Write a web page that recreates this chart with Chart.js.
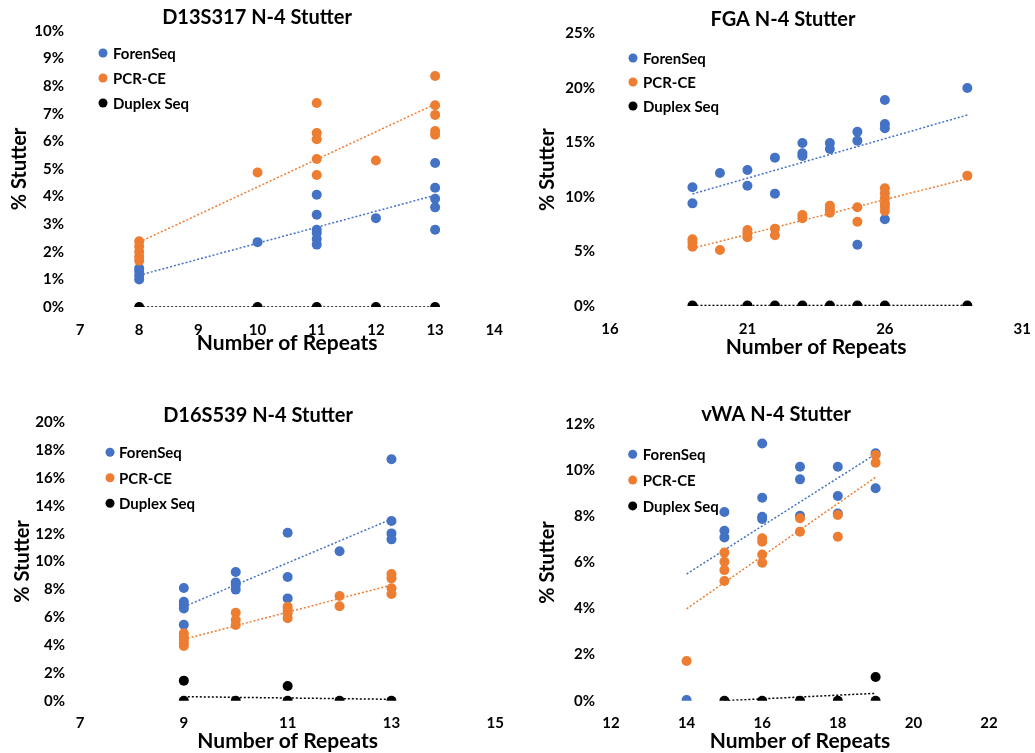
<!DOCTYPE html>
<html>
<head>
<meta charset="utf-8">
<script src="https://cdn.jsdelivr.net/npm/chart.js@4/dist/chart.umd.min.js"></script>
<style>
  html, body { margin: 0; padding: 0; background: #fff; overflow: hidden; }
  #wrap { position: relative; width: 1035px; height: 753px; overflow: hidden; }
  canvas { position: absolute; }
</style>
</head>
<body>
<div id="wrap">
  <canvas id="c1" width="517" height="362" style="left:0;top:0"></canvas>
  <canvas id="c2" width="530" height="362" style="left:515px;top:0"></canvas>
  <canvas id="c3" width="517" height="393" style="left:0;top:360px"></canvas>
  <canvas id="c4" width="530" height="393" style="left:515px;top:360px"></canvas>
</div>
<script>
// ---- D13S317 ----
const d13ForenX = [8, 8, 8, 8, 10, 11, 11, 11, 11, 11, 11, 12, 13, 13, 13, 13, 13];
const d13ForenY = [1.0, 1.15, 1.3, 1.4, 2.35, 4.07, 3.34, 2.8, 2.68, 2.46, 2.26, 3.22, 5.22, 4.32, 3.92, 3.61, 2.8];
const d13PcrX = [8, 8, 8, 8, 8, 10, 11, 11, 11, 11, 11, 12, 13, 13, 13, 13, 13];
const d13PcrY = [2.38, 2.2, 2.0, 1.83, 1.68, 4.87, 7.39, 6.3, 6.08, 5.36, 4.78, 5.31, 8.37, 7.31, 6.96, 6.38, 6.24];
const d13DupX = [8, 10, 11, 12, 13];
const d13DupY = [0, 0, 0, 0, 0];
const d13TrendX = [8, 13];
const d13TrendForen = [1.15, 4.05];
const d13TrendPcr = [2.35, 7.35];
const d13TrendDup = [0, 0];

// ---- FGA ----
const fgaForenX = [19, 19, 20, 21, 21, 22, 22, 23, 23, 23, 24, 24, 25, 25, 25, 26, 26, 26, 26, 29];
const fgaForenY = [10.88, 9.41, 12.19, 12.47, 11.03, 13.6, 10.3, 14.94, 14.0, 13.75, 14.94, 14.4, 15.98, 15.16, 5.62, 18.89, 16.69, 16.29, 7.95, 19.99];
const fgaPcrX = [19, 19, 19, 20, 21, 21, 21, 22, 22, 23, 23, 24, 24, 24, 25, 25, 26, 26, 26, 26, 26, 26, 29];
const fgaPcrY = [6.11, 5.81, 5.44, 5.13, 6.97, 6.66, 6.3, 7.09, 6.48, 8.34, 8.04, 9.2, 8.86, 8.56, 9.05, 7.73, 10.79, 10.33, 9.87, 9.41, 9.1, 8.71, 11.95];
const fgaDupX = [19, 21, 22, 23, 24, 25, 26, 29];
const fgaDupY = [0.05, 0.05, 0.05, 0.05, 0.05, 0.05, 0.05, 0.05];
const fgaTrendX = [19, 29];
const fgaTrendForen = [10.27, 17.51];
const fgaTrendPcr = [5.29, 11.67];
const fgaTrendDup = [0.05, 0.05];

// ---- D16S539 ----
const d16ForenX = [9, 9, 9, 9, 9, 10, 10, 10, 10, 11, 11, 11, 12, 13, 13, 13, 13];
const d16ForenY = [8.1, 7.11, 6.87, 6.63, 5.46, 9.25, 8.5, 8.31, 7.98, 12.07, 8.89, 7.35, 10.73, 17.34, 12.91, 12.02, 11.59];
const d16PcrX = [9, 9, 9, 9, 9, 10, 10, 10, 11, 11, 11, 11, 12, 12, 13, 13, 13, 13];
const d16PcrY = [4.84, 4.6, 4.36, 4.12, 3.93, 6.32, 5.8, 5.44, 6.75, 6.51, 6.28, 5.92, 7.52, 6.78, 9.1, 8.79, 8.07, 7.66];
const d16DupX = [9, 9, 10, 11, 11, 12, 13];
const d16DupY = [1.44, 0, 0, 1.05, 0, 0, 0];
const d16TrendX = [9, 13];
const d16TrendForen = [6.75, 13.05];
const d16TrendPcr = [4.41, 8.31];
const d16TrendDup = [0.29, 0.1];

// ---- vWA ----
const vwaForenX = [14, 15, 15, 15, 16, 16, 16, 16, 17, 17, 17, 18, 18, 18, 19, 19];
const vwaForenY = [0.03, 8.19, 7.38, 7.09, 11.17, 8.81, 7.99, 7.89, 10.16, 9.61, 8.03, 10.16, 8.89, 8.13, 10.74, 9.22];
const vwaPcrX = [14, 15, 15, 15, 15, 16, 16, 16, 16, 17, 17, 18, 18, 19, 19];
const vwaPcrY = [1.72, 6.43, 6.03, 5.67, 5.2, 7.05, 6.9, 6.35, 5.99, 7.92, 7.34, 8.06, 7.12, 10.67, 10.33];
const vwaDupX = [15, 16, 17, 18, 19, 19];
const vwaDupY = [0, 0, 0, 0, 1.03, 0];
const vwaTrendX = [14, 19];
const vwaTrendForen = [5.5, 10.71];
const vwaTrendPcr = [3.99, 9.7];
const vwaTrendDupX = [15, 19];
const vwaTrendDup = [0, 0.32];

const seriesNames = ['ForenSeq', 'PCR-CE', 'Duplex Seq'];
const colors = ['#4472C4', '#ED7D31', '#000000'];

const FONT = 'Lato, "Open Sans", sans-serif';

const pts = (xs, ys) => xs.map((x, i) => ({x: x, y: ys[i]}));

// legend drawn inside the plot area (top-left)
const insideLegend = {
  id: 'insideLegend',
  afterDraw(chart, args, opts) {
    const {ctx, chartArea} = chart;
    ctx.save();
    ctx.font = 'bold 15px ' + FONT;
    ctx.textBaseline = 'middle';
    ctx.textAlign = 'left';
    chart.data.datasets
      .filter(d => !d.trend)
      .sort((a, b) => a.legendIndex - b.legendIndex)
      .forEach((d, i) => {
        const x = chartArea.left + opts.x;
        const y = chartArea.top + opts.y + i * opts.gap;
        ctx.fillStyle = d.backgroundColor;
        ctx.beginPath();
        ctx.arc(x, y, 4.5, 0, Math.PI * 2);
        ctx.fill();
        ctx.fillStyle = '#000';
        ctx.fillText(d.label, x + opts.textGap, y + 1);
      });
    ctx.restore();
  }
};

function scatterSet(i, data){
  return {
    type: 'scatter', label: seriesNames[i], legendIndex: i, data: data,
    backgroundColor: colors[i], borderColor: colors[i],
    pointRadius: 5, pointHoverRadius: 5, borderWidth: 0
  };
}
function trendSet(i, data){
  return {
    type: 'line', label: seriesNames[i] + ' trend', trend: true, data: data,
    borderColor: colors[i], borderWidth: 1.5, borderDash: [2, 2],
    pointRadius: 0, fill: false, tension: 0
  };
}

function makeChart(id, title, series, trends, sc, lay){
  new Chart(document.getElementById(id), {
    type: 'scatter',
    data: {
      datasets: [
        scatterSet(2, series[2]), scatterSet(1, series[1]), scatterSet(0, series[0]),
        trendSet(0, trends[0]), trendSet(1, trends[1]), trendSet(2, trends[2])
      ]
    },
    options: {
      responsive: false,
      animation: false,
      layout: { padding: { left: lay.pL, right: lay.pR, top: 0, bottom: 0 } },
      plugins: {
        legend: { display: false },
        tooltip: { enabled: false },
        title: {
          display: true, text: title, color: '#000',
          font: { family: FONT, size: 20, weight: 'bold', lineHeight: 1.2 },
          padding: { top: lay.tTop, bottom: lay.tBot }
        },
        insideLegend: lay.legend
      },
      scales: {
        x: {
          type: 'linear', min: sc.xMin, max: sc.xMax,
          grid: { display: false, drawTicks: false },
          border: { display: false },
          ticks: { stepSize: sc.xStep, padding: lay.xTickPad, color: '#000',
                   font: { family: FONT, size: 15, weight: 'bold', lineHeight: 1.2 } },
          title: { display: true, text: 'Number of Repeats', color: '#000',
                   font: { family: FONT, size: 21, weight: 'bold', lineHeight: 1.2 },
                   padding: { top: 0, bottom: lay.xTitlePad } },
          afterFit: s => { s.height = lay.xH; }
        },
        y: {
          type: 'linear', min: 0, max: sc.yMax,
          grid: { display: false, drawTicks: false },
          border: { display: false },
          ticks: { stepSize: sc.yStep, padding: lay.yTickPad, color: '#000',
                   font: { family: FONT, size: 15, weight: 'bold', lineHeight: 1.2 },
                   callback: v => v + '%' },
          title: { display: true, text: '% Stutter', color: '#000',
                   font: { family: FONT, size: 20, weight: 'bold', lineHeight: 1.2 },
                   padding: { top: lay.yTitlePad, bottom: 0 } },
          afterFit: s => { s.width = lay.yW; }
        }
      }
    },
    plugins: [insideLegend]
  });
}

makeChart('c1', 'D13S317 N-4 Stutter',
  [pts(d13ForenX, d13ForenY), pts(d13PcrX, d13PcrY), pts(d13DupX, d13DupY)],
  [pts(d13TrendX, d13TrendForen), pts(d13TrendX, d13TrendPcr), pts(d13TrendX, d13TrendDup)],
  { xMin: 7, xMax: 14, xStep: 1, yMax: 10, yStep: 1 },
  { pL: 12, pR: 15, yW: 68, yTitlePad: -4, yTickPad: 16, tTop: 6, tBot: 1,
    xTickPad: 14, xH: 55, xTitlePad: 6.4, legend: { x: 23, y: 22, gap: 25, textGap: 10 } });

makeChart('c2', 'FGA N-4 Stutter',
  [pts(fgaForenX, fgaForenY), pts(fgaPcrX, fgaPcrY), pts(fgaDupX, fgaDupY)],
  [pts(fgaTrendX, fgaTrendForen), pts(fgaTrendX, fgaTrendPcr), pts(fgaTrendX, fgaTrendDup)],
  { xMin: 16, xMax: 31, xStep: 5, yMax: 25, yStep: 5 },
  { pL: 26, pR: 20, yW: 69, yTitlePad: -5, yTickPad: 15, tTop: 8, tBot: 1.3,
    xTickPad: 14, xH: 56, xTitlePad: 2.4, legend: { x: 23, y: 24.7, gap: 24, textGap: 10 } });

makeChart('c3', 'D16S539 N-4 Stutter',
  [pts(d16ForenX, d16ForenY), pts(d16PcrX, d16PcrY), pts(d16DupX, d16DupY)],
  [pts(d16TrendX, d16TrendForen), pts(d16TrendX, d16TrendPcr), pts(d16TrendX, d16TrendDup)],
  { xMin: 7, xMax: 15, xStep: 2, yMax: 20, yStep: 2 },
  { pL: 16, pR: 17, yW: 64, yTitlePad: -5, yTickPad: 15, tTop: 44, tBot: -5.7,
    xTickPad: 13, xH: 52.3, xTitlePad: -1.3, legend: { x: 30, y: 30, gap: 25.5, textGap: 9 } });

makeChart('c4', 'vWA N-4 Stutter',
  [pts(vwaForenX, vwaForenY), pts(vwaPcrX, vwaPcrY), pts(vwaDupX, vwaDupY)],
  [pts(vwaTrendX, vwaTrendForen), pts(vwaTrendX, vwaTrendPcr), pts(vwaTrendDupX, vwaTrendDup)],
  { xMin: 12, xMax: 22, xStep: 2, yMax: 12, yStep: 2 },
  { pL: 48, pR: 56, yW: 48, yTitlePad: -27, yTickPad: 16, tTop: 43, tBot: -2.7,
    xTickPad: 13, xH: 52.3, xTitlePad: -1.3, legend: { x: 21.7, y: 30, gap: 25.8, textGap: 10 } });
</script>
</body>
</html>
